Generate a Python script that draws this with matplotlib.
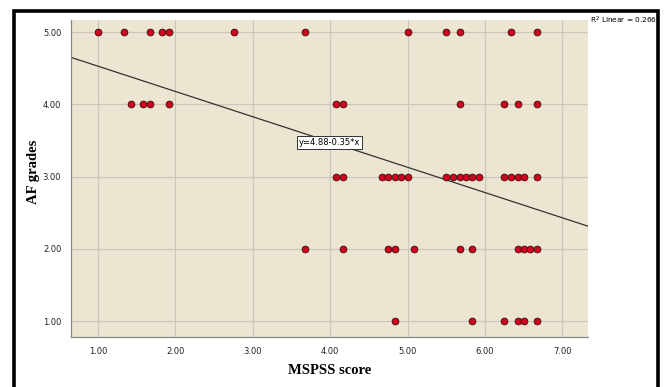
import matplotlib
matplotlib.use('Agg')
import matplotlib.pyplot as plt
import numpy as np
from matplotlib.patches import Rectangle

# MSPSS score vs AF grades
x5 = [1.00, 1.33, 1.67, 1.83, 1.92, 2.75, 3.67, 5.00, 5.50, 5.67, 6.33, 6.67]
x4 = [1.42, 1.58, 1.67, 1.92, 4.08, 4.17, 5.67, 6.25, 6.42, 6.67]
x3 = [4.08, 4.17, 4.67, 4.75, 4.83, 4.92, 5.00, 5.50, 5.58, 5.67, 5.75, 5.83,
      5.92, 6.25, 6.33, 6.42, 6.50, 6.67]
x2 = [3.67, 4.17, 4.75, 4.83, 5.08, 5.67, 5.83, 6.42, 6.50, 6.58, 6.67]
x1 = [4.83, 5.83, 6.25, 6.42, 6.50, 6.67]

intercept, slope = 4.88, -0.35
r2 = 0.266

xticks = [1, 2, 3, 4, 5, 6, 7]
yticks = [1, 2, 3, 4, 5]

W, H = 665, 387
fig = plt.figure(figsize=(W / 100, H / 100), dpi=100)
fig.patch.set_facecolor('white')

# black frame around the chart
fig.patches.append(Rectangle((13.5 / W, -0.05), (657.5 - 13.5) / W, 1.05 - 10.5 / H,
                             transform=fig.transFigure, fill=False,
                             edgecolor='black', linewidth=2.6))

ax = fig.add_axes([71 / W, 1 - 337 / H, (588 - 71) / W, (337 - 20) / H])
ax.set_facecolor('#ECE5D1')

tickfont = ['Liberation Sans Narrow', 'DejaVu Sans']

xs = x5 + x4 + x3 + x2 + x1
ys = [5] * len(x5) + [4] * len(x4) + [3] * len(x3) + [2] * len(x2) + [1] * len(x1)

ax.set_xlim(0.65, 7.33)
ax.set_ylim(0.78, 5.17)
ax.set_xticks(xticks)
ax.set_yticks(yticks)
ax.set_xticklabels([f'{v:.2f}' for v in xticks], fontsize=6, family=tickfont, color='#222222')
ax.set_yticklabels([f'{v:.2f}' for v in yticks], fontsize=6, family=tickfont, color='#222222')
ax.tick_params(length=0, pad=7)
ax.grid(True, color='#C9C6BE', linewidth=0.9)
ax.set_axisbelow(True)

for side in ['top', 'right']:
    ax.spines[side].set_visible(False)
for side in ['left', 'bottom']:
    ax.spines[side].set_color('#888888')
    ax.spines[side].set_linewidth(0.9)

ax.scatter(xs, ys, s=24, c='#D2001E', edgecolors='#3A1010', linewidths=0.6, zorder=3)

lx = np.array(ax.get_xlim())
ax.plot(lx, intercept + slope * lx, color='#333333', linewidth=0.9, zorder=2)

ax.text(3.99, 3.47, f'y={intercept:.2f}{slope:.2f}*x', fontsize=6, family=tickfont,
        ha='center', va='center', zorder=4,
        bbox=dict(boxstyle='square,pad=0.25', facecolor='white', edgecolor='#333333', linewidth=0.7))

fig.text(590 / W, 1 - 20 / H, f'R$^2$ Linear = {r2}', fontsize=5.3, family=tickfont,
         ha='left', va='center')

fig.text(330 / W, 1 - 370 / H, 'MSPSS score', fontsize=10.5, fontweight='bold',
         family='Liberation Serif', ha='center', va='center')
fig.text(33 / W, 1 - 172 / H, 'AF grades', fontsize=10.5, fontweight='bold',
         family='Liberation Serif', ha='center', va='center', rotation=90)

fig.savefig('out.png', dpi=100)
